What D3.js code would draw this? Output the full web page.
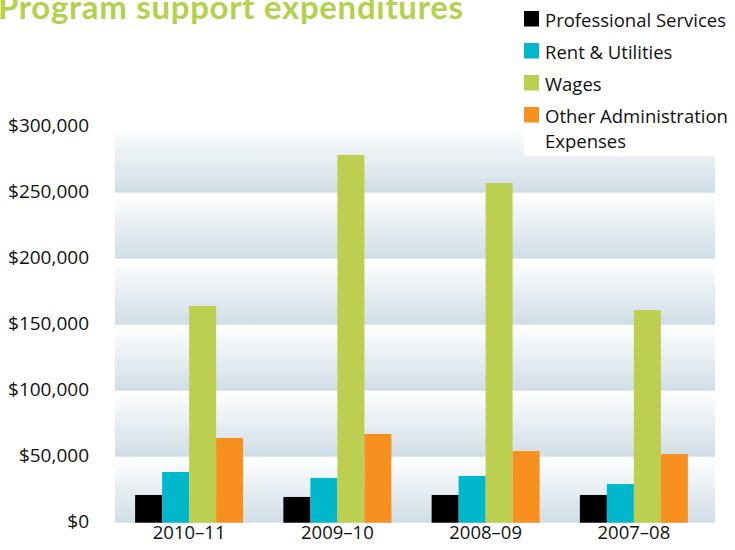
<!DOCTYPE html>
<html><head><meta charset="utf-8">
<script src="https://cdn.jsdelivr.net/npm/d3@7"></script>
<style>body{margin:0;background:#fff}svg{display:block}</style>
</head><body>
<svg id="chart" width="735" height="550"></svg>
<script>
const categories = ["2010–11", "2009–10", "2008–09", "2007–08"];
const seriesNames = ["Professional Services", "Rent & Utilities", "Wages", "Other Administration Expenses"];
const professional = [21000, 19500, 21000, 21000];
const rent = [38400, 33900, 35400, 29300];
const wages = [164200, 278600, 257300, 161100];
const otherAdmin = [64200, 67200, 54300, 52000];
const yTicks = [0, 50000, 100000, 150000, 200000, 250000, 300000];
const colors = ["#000000", "#00b7cc", "#bdcf51", "#f7901e"];

(function () {
const values = [professional, rent, wages, otherAdmin];
const svg = d3.select("#chart");
const pLeft = 115, pRight = 715, pBottom = 522.7, pTop = 126.7;
const y = d3.scaleLinear().domain([0, 300000]).range([pBottom, pTop]);
const x0 = d3.scaleBand().domain(categories).range([115, 708]).padding(0);
const groupW = 108;
const x1 = d3.scaleBand().domain(d3.range(4)).range([0, groupW]).padding(0);

const defs = svg.append("defs");
const g = defs.append("linearGradient").attr("id", "band").attr("x1", 0).attr("y1", 0).attr("x2", 0).attr("y2", 1);
g.append("stop").attr("offset", "0%").attr("stop-color", "#ffffff");
g.append("stop").attr("offset", "100%").attr("stop-color", "#d0dde5");

// background bands
for (let i = 0; i < yTicks.length - 1; i++) {
  svg.append("rect")
    .attr("x", pLeft).attr("width", pRight - pLeft)
    .attr("y", y(yTicks[i + 1])).attr("height", y(yTicks[i]) - y(yTicks[i + 1]))
    .attr("fill", "url(#band)");
}

// bars
categories.forEach((c, ci) => {
  const gx = x0(c) + (x0.bandwidth() - groupW) / 2;
  values.forEach((s, si) => {
    svg.append("rect")
      .attr("x", gx + x1(si)).attr("width", x1.bandwidth())
      .attr("y", y(s[ci])).attr("height", y(0) - y(s[ci]))
      .attr("fill", colors[si]);
  });
});

// y axis labels
const fmt = v => "$" + d3.format(",")(v);
const yAxis = d3.axisLeft(y).tickValues(yTicks).tickFormat(fmt).tickSize(0).tickPadding(0);
const ya = svg.append("g").attr("transform", "translate(89,-1)").call(yAxis);
ya.select(".domain").remove();
ya.selectAll("text").attr("font-family", "Open Sans, sans-serif").attr("font-size", 19).attr("fill", "#111");

// x axis labels
const xAxis = d3.axisBottom(x0).tickSize(0).tickPadding(0);
const xa = svg.append("g").attr("transform", `translate(0,${pBottom + 3})`).call(xAxis);
xa.select(".domain").remove();
xa.selectAll("text").attr("font-family", "Open Sans, sans-serif").attr("font-size", 18.5).attr("fill", "#111");

// title
svg.append("text").attr("x", -2).attr("y", 19)
  .attr("font-family", "Lato, sans-serif").attr("font-weight", "bold").attr("font-size", 33)
  .attr("textLength", 465).attr("lengthAdjust", "spacing")
  .attr("fill", "#b3d14a").text("Program support expenditures");

// legend
svg.append("rect").attr("x", 524).attr("y", 0).attr("width", 191).attr("height", 156).attr("fill", "#fff");
seriesNames.forEach((n, i) => {
  svg.append("rect").attr("x", 524).attr("y", 11 + 32 * i).attr("width", 15).attr("height", 15.5).attr("fill", colors[i]);
});
const lt = (txt, yy) => svg.append("text").attr("x", 545).attr("y", yy)
  .attr("font-family", "Open Sans, sans-serif").attr("font-size", 18.5).attr("fill", "#111").text(txt);
lt("Professional Services", 27);
lt("Rent & Utilities", 59);
lt("Wages", 91);
lt("Other Administration", 123);
lt("Expenses", 148);
})();
</script>
</body></html>
